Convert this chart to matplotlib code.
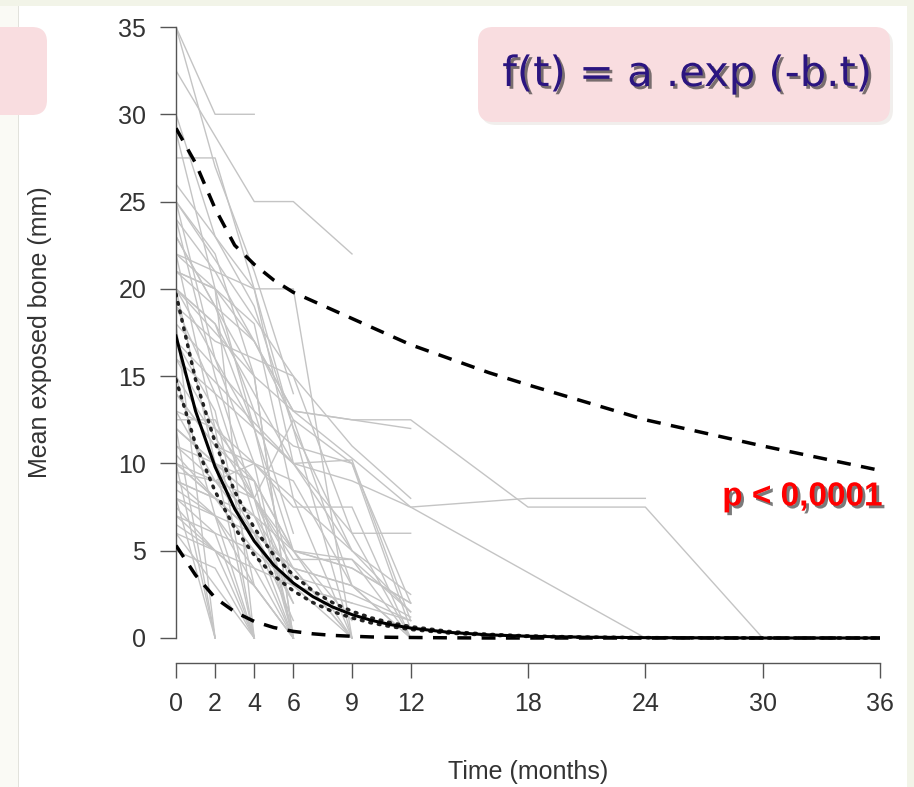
import matplotlib
matplotlib.use("Agg")
import matplotlib.pyplot as plt
import matplotlib.patheffects as pe
from matplotlib.patches import FancyBboxPatch, Rectangle

# months
xticks = [0, 2, 4, 6, 9, 12, 18, 24, 30, 36]
yticks = [0, 5, 10, 15, 20, 25, 30, 35]

# individual patients: visit months and exposed bone (mm)
patient_months = [
    [0, 2, 4], [0, 4, 6, 9], [0, 2, 4, 6], [0, 2, 4, 6, 9], [0, 2, 4, 6, 9],
    [0, 2, 4, 6, 9, 12, 18, 24, 30], [0, 2, 4, 6, 9, 12, 18, 24],
    [0, 2, 4, 6, 9, 12, 24], [0, 4, 6, 9, 12], [0, 2, 6, 9, 12],
    [0, 2, 4, 6, 9, 12], [0, 6, 9, 12], [0, 4, 6, 9, 12], [0, 4, 6, 9, 12],
    [0, 2, 4, 6, 9, 12], [0, 2, 4, 6, 9, 12], [0, 4, 6, 9, 12], [0, 6, 9, 12],
    [0, 4, 6, 9], [0, 2, 4, 6, 9], [0, 2, 4, 6], [0, 2, 4, 6], [0, 2, 4],
    [0, 2, 4], [0, 2], [0, 2], [0, 2], [0, 2], [0, 2, 4], [0, 2, 4, 6],
    [0, 2, 4, 6], [0, 2, 4, 6], [0, 2, 4, 6], [0, 2, 4, 6, 9], [0, 2, 4, 6, 9],
    [0, 4, 6, 9, 12], [0, 2, 4, 6, 9, 12], [0, 4, 6, 9, 12], [0, 2, 4, 6, 9],
    [0, 2, 4, 6, 9, 12], [0, 2, 4, 6], [0, 2, 4, 6], [0, 2, 4], [0, 2, 4],
    [0, 2, 4], [0, 2, 4, 6], [0, 4, 6, 9, 12], [0, 2, 4, 6, 9],
    [0, 2, 4, 6], [0, 2, 4, 6, 9, 12], [0, 4, 6, 9], [0, 2, 4, 6],
    [0, 2, 4, 6, 9], [0, 2, 4, 6, 9, 12], [0, 2, 4, 6], [0, 2, 4],
    [0, 2, 4, 6], [0, 2, 4, 6], [0, 2, 4, 6], [0, 2, 4], [0, 2, 4],
    [0, 2, 4, 6], [0, 2, 4, 6, 9], [0, 4, 6, 9, 12], [0, 2, 4, 6, 9, 12], [0, 4, 6],
]
patient_mm = [
    [35, 30, 30], [32.5, 25, 25, 22], [35, 27, 21, 14], [27.5, 27.5, 20, 20, 0], [30, 23, 19, 12, 5],
    [24, 21, 17, 13, 12.5, 12.5, 7.5, 7.5, 0], [20, 18, 14, 10, 9, 7.5, 8, 8],
    [21, 20, 17, 13, 10.3, 7.5, 0], [23, 15, 13, 12.5, 12], [19, 17, 15, 11, 8],
    [12.5, 12.5, 8, 12.5, 10, 2], [17, 10, 6, 6], [20, 12, 10, 10.2, 1], [18, 13, 11, 10, 0.5],
    [10, 9, 7, 5, 4, 2], [9, 8, 7, 3.5, 2.5, 1], [15, 8, 5, 4.5, 0], [25, 15, 6, 0],
    [22, 18, 8, 0], [21, 20, 12, 5, 0], [25, 16, 10, 0], [24, 15, 8, 0], [22, 12, 0],
    [20, 10, 0], [18, 0], [12, 0], [10, 0], [8, 0], [15, 7, 0], [10.5, 8, 5, 0],
    [9, 7, 4, 0], [8, 7, 3, 0], [7.5, 5, 3, 0], [7, 6, 5, 3, 0], [8.5, 7, 6, 4, 0],
    [10, 6, 4, 3, 0], [6, 5, 4, 3, 2, 1], [12, 8, 4.5, 4.5, 1.5], [14, 11, 9, 5, 1],
    [11, 10, 9, 5, 4, 2], [16, 12, 9, 0], [19, 14, 7, 2], [17, 13, 3], [6, 3, 0],
    [5, 4, 0], [20, 18, 12, 3], [21, 17, 12.5, 3, 0], [13, 9, 10, 9, 3],
    [22, 21, 20, 10], [14, 11, 10, 7.5, 7.5, 0], [26, 20, 12, 0], [23, 19, 13, 6],
    [9.5, 9, 8, 3, 2], [10, 8, 6, 4, 3, 1.2], [25, 22, 15, 0], [29, 20, 0],
    [12, 10, 6, 0], [11, 9, 6, 2], [9, 8, 6, 1], [8, 6, 0], [7, 5, 0],
    [6.5, 5, 3, 0], [12, 10, 8, 4, 0], [16, 12, 10, 5, 1.5], [13, 12, 10, 8, 5, 2.5], [20, 15, 0],
]

# fitted curve, its confidence band (dotted) and prediction band (dashed)
curve_months = [0, 1, 2, 3, 4, 5, 6, 7, 8, 9, 10, 11, 12, 14, 16, 18, 21, 24, 30, 36]
fit_mm = [17.3, 13.0, 9.8, 7.4, 5.55, 4.17, 3.15, 2.37, 1.78, 1.34, 1.01, 0.76, 0.57,
          0.32, 0.18, 0.10, 0.045, 0.02, 0.0, 0.0]
ci_upper = [19.7, 14.8, 11.2, 8.4, 6.3, 4.75, 3.6, 2.7, 2.03, 1.53, 1.15, 0.87, 0.65,
            0.37, 0.21, 0.12, 0.05, 0.02, 0.0, 0.0]
ci_lower = [14.8, 11.1, 8.4, 6.3, 4.75, 3.57, 2.7, 2.03, 1.52, 1.15, 0.86, 0.65, 0.49,
            0.28, 0.16, 0.09, 0.04, 0.02, 0.0, 0.0]
pi_upper = [29.2, 27.2, 24.6, 22.5, 21.4, 20.5, 19.8, 19.3, 18.8, 18.3, 17.8, 17.3, 16.8,
            16.0, 15.2, 14.5, 13.5, 12.5, 11.0, 9.6]
pi_lower = [5.3, 3.6, 2.3, 1.5, 0.95, 0.6, 0.38, 0.24, 0.15, 0.1, 0.06, 0.04, 0.03,
            0.01, 0.0, 0.0, 0.0, 0.0, 0.0, 0.0]

W, H = 914, 787
fig = plt.figure(figsize=(W / 100, H / 100), dpi=100)
fig.patch.set_facecolor("#f2f4e8")


def px_box(x0, y0, x1, y1, **kw):
    # box given in pixels from top-left, drawn in inches
    return FancyBboxPatch((x0 / 100, (H - y1) / 100), (x1 - x0) / 100, (y1 - y0) / 100,
                          transform=fig.dpi_scale_trans, **kw)


fig.patches.append(Rectangle((0, 0), 18 / 100, (H - 6) / 100, transform=fig.dpi_scale_trans,
                             facecolor="#fafaf5", edgecolor="none", zorder=-3))
fig.patches.append(Rectangle((18 / 100, 0), (907 - 18) / 100, (H - 6) / 100,
                             transform=fig.dpi_scale_trans, facecolor="white",
                             edgecolor="none", zorder=-3))
fig.patches.append(Rectangle((18 / 100, 0), 1 / 100, (H - 6) / 100, transform=fig.dpi_scale_trans,
                             facecolor="#e2e2dc", edgecolor="none", zorder=-2))

# pink boxes
fig.patches.append(px_box(-30, 27, 47, 115, boxstyle="round,pad=0,rounding_size=0.15",
                          facecolor="#f9dde0", edgecolor="none", zorder=-1))
fig.patches.append(px_box(481, 30, 893, 125, boxstyle="round,pad=0,rounding_size=0.15",
                          facecolor="#e8e4e0", edgecolor="none", alpha=0.6, zorder=1))
fig.patches.append(px_box(478, 27, 890, 122, boxstyle="round,pad=0,rounding_size=0.15",
                          facecolor="#f9dde0", edgecolor="none", zorder=2))

ax = fig.add_axes([176 / W, (H - 663) / H, 704 / W, 636 / H])
ax.set_facecolor("none")
ax.set_xlim(0, 36)
ax.set_ylim(-25 / 17.457, 35)

for t, v in zip(patient_months, patient_mm):
    ax.plot(t, v, color="#c4c4c4", lw=1.0, zorder=2)

ax.plot(curve_months, pi_upper, color="black", lw=2.5, dashes=(4, 3), zorder=4)
ax.plot(curve_months, pi_lower, color="black", lw=2.5, dashes=(4, 3), zorder=4)
ax.plot(curve_months, ci_upper, color="#222222", lw=2.5, linestyle=(0, (0.5, 2.0)),
        dash_capstyle="round", zorder=4)
ax.plot(curve_months, ci_lower, color="#222222", lw=2.5, linestyle=(0, (0.5, 2.0)),
        dash_capstyle="round", zorder=4)
ax.plot(curve_months, fit_mm, color="black", lw=2.2, zorder=5)

for s in ["top", "right"]:
    ax.spines[s].set_visible(False)
ax.spines["left"].set_bounds(0, 35)
ax.spines["bottom"].set_bounds(0, 36)
for s in ["left", "bottom"]:
    ax.spines[s].set_color("#555555")
    ax.spines[s].set_linewidth(1.0)

ax.set_xticks(xticks)
ax.set_yticks(yticks)
ax.set_xticklabels([str(v) for v in xticks])
ax.set_yticklabels([str(v) for v in yticks])
ax.tick_params(axis="y", length=11.5, width=1.0, color="#555555", pad=10,
               labelsize=18, labelcolor="#333333")
ax.tick_params(axis="x", length=11, width=1.0, color="#555555", pad=10,
               labelsize=18, labelcolor="#333333")
for lab in ax.get_xticklabels() + ax.get_yticklabels():
    lab.set_family("Liberation Sans")

fig.text(40 / W, 1 - 332 / H, "Mean exposed bone (mm)", rotation=90, ha="center", va="center",
         fontsize=18, color="#333333", family="Liberation Sans")
fig.text(528 / W, 1 - 772 / H, "Time (months)", ha="center", va="center",
         fontsize=18, color="#333333", family="Liberation Sans")

shadow = [pe.withSimplePatchShadow(offset=(2, -2), shadow_rgbFace="#222222", alpha=0.6)]
fig.text(687 / W, 1 - 74 / H, "f(t) = a .exp (-b.t)", ha="center", va="center",
         fontsize=30, color="#2b1580", family="DejaVu Sans", zorder=5, path_effects=shadow)
fig.text(883 / W, 1 - 497 / H, "p < 0,0001", ha="right", va="center", fontsize=24,
         fontweight="bold", color="#ff0000", family="Liberation Sans", zorder=6,
         path_effects=shadow)

fig.savefig("out.png", dpi=100, facecolor=fig.get_facecolor())
